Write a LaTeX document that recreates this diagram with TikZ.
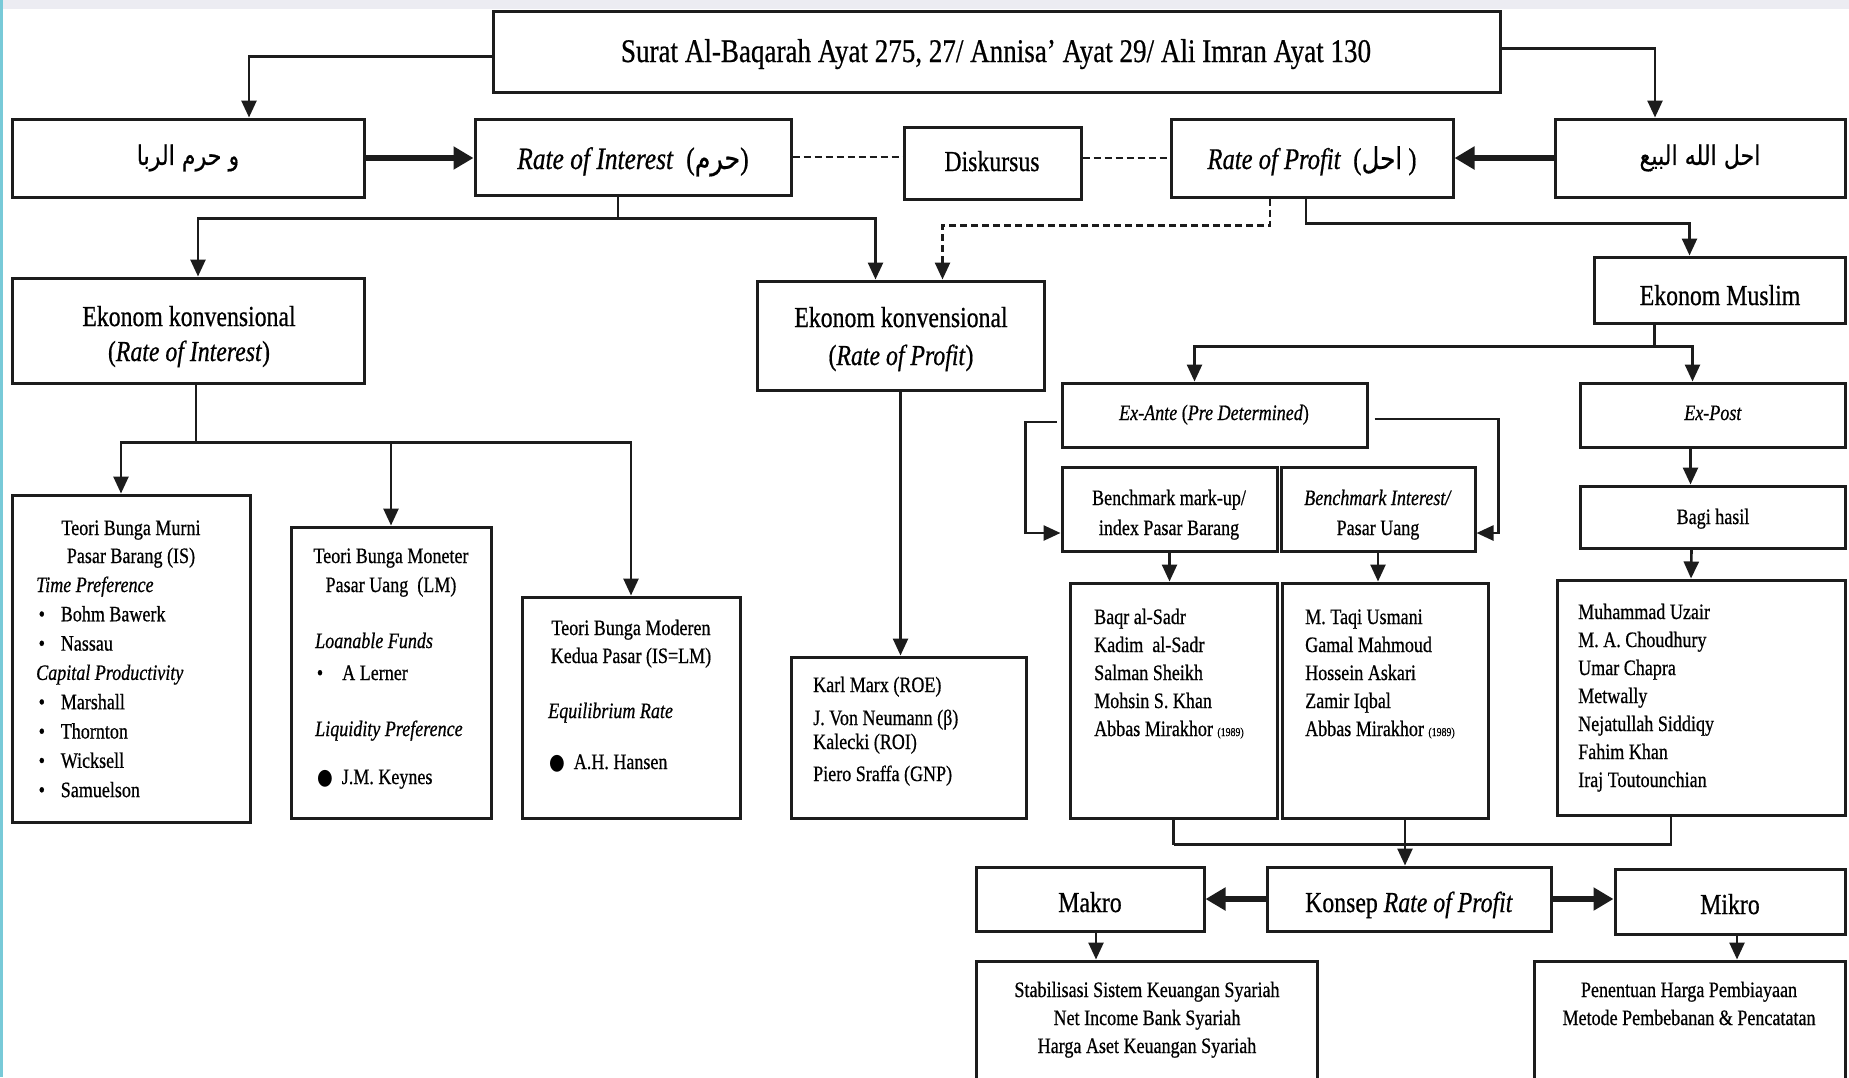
\documentclass[tikz,border=0pt]{standalone}
\usepackage{fontspec}
\usepackage{graphicx}
\setmainfont{Liberation Serif}[FakeBold=0.7]
\newfontfamily\arabicfont[Script=Arabic,FakeBold=0.5]{DejaVu Sans}
\newfontfamily\dejavu{DejaVu Sans}
\TeXXeTstate=1
\usetikzlibrary{arrows.meta,calc,fit}
% narrow, tall lettering
\newcommand{\sq}[1]{\scalebox{0.82}[1]{#1}}
\newcommand{\ar}[1]{{\arabicfont\beginR #1\endR}}
\newcommand{\itm}[1]{\makebox[30pt][l]{\hspace{3pt}\textbullet}#1}
\newcommand{\bigdot}{{\dejavu ●}}
\newcommand{\yr}[1]{{\fontsize{12}{14}\selectfont(#1)}}
\definecolor{band}{RGB}{236,236,242}
\definecolor{edge}{RGB}{120,202,216}
\definecolor{ink}{RGB}{28,28,28}
\tikzset{
  box/.style={draw=ink, line width=3pt, inner sep=0pt, rectangle},
  big/.style={inner sep=0pt, font=\fontsize{33}{40}\selectfont},
  mid/.style={inner sep=0pt, font=\fontsize{29}{36}\selectfont},
  sml/.style={inner sep=0pt, font=\fontsize{22}{28}\selectfont},
  conn/.style={draw=ink, line width=2.6pt},
  arr/.style={conn, -{Triangle[length=17pt,width=15pt]}},
  fat/.style={draw=ink, line width=6pt, -{Triangle[length=20pt,width=22pt]}},
  dashline/.style={conn, dash pattern=on 7pt off 4pt},
}
\begin{document}
\begin{tikzpicture}[x=1pt,y=-1pt]
\useasboundingbox (0,0) rectangle (1849,1077);
\clip (0,0) rectangle (1849,1077);
\fill[white] (0,0) rectangle (1849,1077);
\fill[band] (0,0) rectangle (1849,9);
\fill[edge] (0,0) rectangle (3,1077);

% ---------- boxes ----------
\node[box, fit={(493,11) (1500,92)}] (top) {};
\node[box, fit={(12,119) (364,197)}] (wharam) {};
\node[box, fit={(475,119) (791,195)}] (RoI) {};
\node[box, fit={(904,127) (1081,199)}] (Disk) {};
\node[box, fit={(1171,119) (1453,197)}] (RoP) {};
\node[box, fit={(1555,119) (1845,197)}] (ahal) {};
\node[box, fit={(12,278) (364,383)}] (EKI) {};
\node[box, fit={(757,281) (1044,390)}] (EKP) {};
\node[box, fit={(1594,257) (1845,323)}] (EM) {};
\node[box, fit={(1062,383) (1367,447)}] (ExAnte) {};
\node[box, fit={(1580,383) (1845,447)}] (ExPost) {};
\node[box, fit={(1062,467) (1277,551)}] (BMU) {};
\node[box, fit={(1281,467) (1475,551)}] (BI) {};
\node[box, fit={(1580,486) (1845,548)}] (Bagi) {};
\node[box, fit={(12,495) (250,822)}] (TBMurni) {};
\node[box, fit={(291,527) (491,818)}] (TBMon) {};
\node[box, fit={(522,597) (740,818)}] (TBMod) {};
\node[box, fit={(791,657) (1026,818)}] (KM) {};
\node[box, fit={(1070,583) (1277,818)}] (Baqr) {};
\node[box, fit={(1282,583) (1488,818)}] (Taqi) {};
\node[box, fit={(1557,580) (1845,815)}] (Uzair) {};
\node[box, fit={(976,867) (1204,931)}] (Makro) {};
\node[box, fit={(1267,867) (1551,931)}] (Konsep) {};
\node[box, fit={(1615,869) (1845,934)}] (Mikro) {};
\node[box, fit={(976,961) (1317,1100)}] (Stab) {};
\node[box, fit={(1534,961) (1845,1100)}] (Pen) {};

% ---------- texts ----------
\node[big, anchor=base] (top-t) at (996,62) {\sq{Surat Al-Baqarah Ayat 275, 27/ Annisa’ Ayat 29/ Ali Imran Ayat 130}};
\node[inner sep=0pt, font=\fontsize{27}{32}\selectfont] (wharam-t) at (wharam.center) {\sq{\ar{و حرم الربا}}};
\node[inner sep=0pt, font=\fontsize{31}{36}\selectfont, anchor=base] (RoI-t) at (633,169) {\sq{\textit{Rate of Interest}\ \ (\ar{حرم})}};
\node[mid, anchor=base] (Disk-t) at (992,171) {\sq{Diskursus}};
\node[inner sep=0pt, font=\fontsize{30}{36}\selectfont, anchor=base] (RoP-t) at (1312,169) {\sq{\textit{Rate of Profit}\ \ (\ar{احل} )}};
\node[inner sep=0pt, font=\fontsize{27}{32}\selectfont] (ahal-t) at (ahal.center) {\sq{\ar{احل الله البيع}}};

\node[inner sep=0pt, font=\fontsize{29}{35}\selectfont, anchor=base] (EKI-t) at (189,326)
  {\sq{\begin{tabular}[t]{@{}c@{}}Ekonom konvensional\\(\textit{Rate of Interest})\end{tabular}}};
\node[inner sep=0pt, font=\fontsize{29}{38}\selectfont, anchor=base] (EKP-t) at (901,327)
  {\sq{\begin{tabular}[t]{@{}c@{}}Ekonom konvensional\\(\textit{Rate of Profit})\end{tabular}}};
\node[mid, anchor=base] (EM-t) at (1720,305) {\sq{Ekonom Muslim}};

\node[sml, anchor=base] (ExAnte-t) at (1214,420) {\sq{\textit{Ex-Ante} (\textit{Pre Determined})}};
\node[sml, anchor=base] (ExPost-t) at (1713,420) {\sq{\textit{Ex-Post}}};
\node[inner sep=0pt, font=\fontsize{22}{30}\selectfont, anchor=base] (BMU-t) at (1169,505)
  {\sq{\begin{tabular}[t]{@{}c@{}}Benchmark mark-up/\\index Pasar Barang\end{tabular}}};
\node[inner sep=0pt, font=\fontsize{22}{30}\selectfont, anchor=base] (BI-t) at (1378,505)
  {\sq{\begin{tabular}[t]{@{}c@{}}\textit{Benchmark Interest/}\\Pasar Uang\end{tabular}}};
\node[sml, anchor=base] (Bagi-t) at (1713,524) {\sq{Bagi hasil}};

% Teori Bunga Murni
\node[sml, anchor=base] (TBMurni-h) at (131,535)
  {\sq{\begin{tabular}[t]{@{}c@{}}Teori Bunga Murni\\Pasar Barang (IS)\end{tabular}}};
\node[inner sep=0pt, font=\fontsize{22}{29.3}\selectfont, anchor=base west] (TBMurni-l) at (36,592)
  {\sq{\begin{tabular}[t]{@{}l@{}}\textit{Time Preference}\\\itm{Bohm Bawerk}\\\itm{Nassau}\\
   \textit{Capital Productivity}\\\itm{Marshall}\\\itm{Thornton}\\\itm{Wicksell}\\\itm{Samuelson}\end{tabular}}};

% Teori Bunga Moneter
\node[inner sep=0pt, font=\fontsize{22}{29}\selectfont, anchor=base] (TBMon-h) at (391,563)
  {\sq{\begin{tabular}[t]{@{}c@{}}Teori Bunga Moneter\\Pasar Uang\ \ (LM)\end{tabular}}};
\node[sml, anchor=base west] (TBMon-a) at (315,648) {\sq{\textit{Loanable Funds}}};
\node[sml, anchor=base west] (TBMon-b) at (315,680) {\sq{\makebox[33pt][l]{\hspace{2pt}\textbullet}A Lerner}};
\node[sml, anchor=base west] (TBMon-c) at (315,736) {\sq{\textit{Liquidity Preference}}};
\node[sml, anchor=base west] (TBMon-d) at (317,784) {\sq{\makebox[30pt][l]{\bigdot}J.M. Keynes}};

% Teori Bunga Moderen
\node[sml, anchor=base] (TBMod-h) at (631,635)
  {\sq{\begin{tabular}[t]{@{}c@{}}Teori Bunga Moderen\\Kedua Pasar (IS=LM)\end{tabular}}};
\node[sml, anchor=base west] (TBMod-a) at (548,718) {\sq{\textit{Equilibrium Rate}}};
\node[sml, anchor=base west] (TBMod-b) at (549,769) {\sq{\makebox[30pt][l]{\bigdot}A.H. Hansen}};

% name lists
\node[sml, anchor=base west] (KM-t) at (813,692)
  {\sq{\begin{tabular}[t]{@{}l@{}}Karl Marx (ROE)\\[5pt]J. Von Neumann (β)\\[-4pt]Kalecki (ROI)\\[4pt]Piero Sraffa (GNP)\end{tabular}}};
\node[sml, anchor=base west] (Baqr-t) at (1094,624)
  {\sq{\begin{tabular}[t]{@{}l@{}}Baqr al-Sadr\\Kadim\ \ al-Sadr\\Salman Sheikh\\Mohsin S. Khan\\Abbas Mirakhor \yr{1989}\end{tabular}}};
\node[sml, anchor=base west] (Taqi-t) at (1305,624)
  {\sq{\begin{tabular}[t]{@{}l@{}}M. Taqi Usmani\\Gamal Mahmoud\\Hossein Askari\\Zamir Iqbal\\Abbas Mirakhor \yr{1989}\end{tabular}}};
\node[sml, anchor=base west] (Uzair-t) at (1578,619)
  {\sq{\begin{tabular}[t]{@{}l@{}}Muhammad Uzair\\M. A. Choudhury\\Umar Chapra\\Metwally\\Nejatullah Siddiqy\\Fahim Khan\\Iraj Toutounchian\end{tabular}}};

\node[mid, anchor=base] (Makro-t) at (1090,912) {\sq{Makro}};
\node[mid, anchor=base] (Konsep-t) at (1409,912) {\sq{Konsep \textit{Rate of Profit}}};
\node[mid, anchor=base] (Mikro-t) at (1730,914) {\sq{Mikro}};
\node[sml, anchor=base] (Stab-t) at (1147,997)
  {\sq{\begin{tabular}[t]{@{}c@{}}Stabilisasi Sistem Keuangan Syariah\\Net Income Bank Syariah\\Harga Aset Keuangan Syariah\end{tabular}}};
\node[sml, anchor=base] (Pen-t) at (1689,997)
  {\sq{\begin{tabular}[t]{@{}c@{}}Penentuan Harga Pembiayaan\\Metode Pembebanan \& Pencatatan\end{tabular}}};

% ---------- connectors ----------
\draw[arr] ($(top.west)+(0,5)$) -| ($(wharam.north)+(61,0)$);
\draw[arr] ($(top.east)+(0,-3)$) -| ($(ahal.north)+(-45,0)$);
\draw[fat] (wharam.east) -- (wharam.east -| RoI.west);
\draw[dashline] (RoI.east) -- (RoI.east -| Disk.west);
\draw[dashline] (RoP.west -| Disk.east) -- (RoP.west);
\draw[fat] (ahal.west) -- (ahal.west -| RoP.east);

\coordinate (jI) at ($(RoI.south)+(-15,22)$);
\draw[conn] ($(RoI.south)+(-15,0)$) -- (jI);
\draw[arr] (jI) -| ($(EKI.north)+(10,0)$);
\draw[arr] (jI) -| ($(EKP.north)+(-25,0)$);

\draw[dashline, -{Triangle[length=17pt,width=15pt]}] ($(RoP.south)+(-42,0)$) |- ($(EKP.north)+(42,-54)$) -- ($(EKP.north)+(42,0)$);
\draw[arr] ($(RoP.south)+(-6,0)$) |- ($(EM.north)+(-30,-32)$) -- ($(EM.north)+(-30,0)$);

\coordinate (jM) at ($(EM.south)+(-65,22)$);
\draw[conn] ($(EM.south)+(-65,0)$) -- (jM);
\draw[arr] (jM) -| ($(ExAnte.north)+(-20,0)$);
\draw[arr] (jM) -| ($(ExPost.north)+(-20,0)$);

\draw[arr] ($(ExAnte.west)+(-4,7)$) -- ++(-31,0) |- ($(BMU.west)+(0,24)$);
\draw[arr] ($(ExAnte.east)+(6,4)$) -- ++(124,0) |- ($(BI.east)+(0,24)$);
\draw[arr] (BMU.south) -- (BMU.south |- Baqr.north);
\draw[arr] (BI.south) -- (BI.south |- Taqi.north);
\draw[arr] ($(ExPost.south)+(-22,0)$) -- ($(Bagi.north)+(-22,0)$);
\draw[arr] ($(Bagi.south)+(-21,0)$) -- ($(Uzair.north)+(-10,0)$);
\draw[arr] (EKP.south) -- (EKP.south |- KM.north);

\coordinate (jE) at ($(EKI.south)+(8,58)$);
\draw[conn] ($(EKI.south)+(8,0)$) -- (jE);
\draw[arr] (jE) -| ($(TBMurni.north)+(-10,0)$);
\draw[arr] (jE) -| (TBMod.north);
\draw[arr] (jE -| TBMon.north) -- (TBMon.north);

\coordinate (jB) at ($(Baqr.south)+(0,25)$);
\draw[conn] (Baqr.south) -- (jB);
\draw[conn] ($(Uzair.south)+(-30,0)$) |- (jB);
\draw[arr] ($(Taqi.south)+(20,0)$) -- ($(Konsep.north)+(-4,0)$);
\draw[fat] (Konsep.west) -- (Konsep.west -| Makro.east);
\draw[fat] (Konsep.east) -- (Konsep.east -| Mikro.west);
\coordinate (mk) at ($(Makro.south)+(6,0)$);
\draw[arr] (mk) -- (mk |- Stab.north);
\coordinate (mi) at ($(Mikro.south)+(7,0)$);
\draw[arr] (mi) -- (mi |- Pen.north);
\end{tikzpicture}
\end{document}
